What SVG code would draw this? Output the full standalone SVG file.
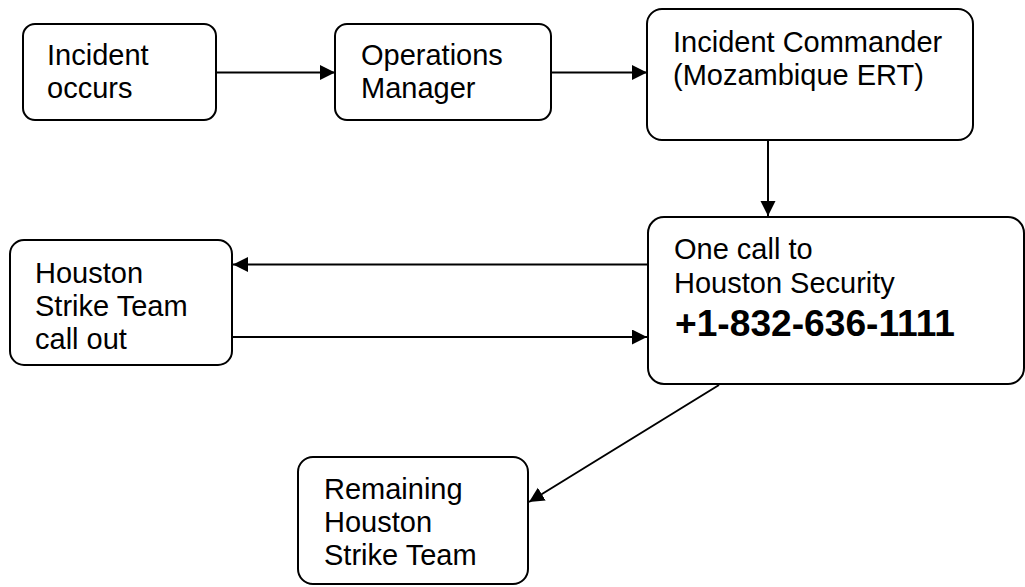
<svg xmlns="http://www.w3.org/2000/svg" width="1025" height="587" viewBox="0 0 1025 587">
  <style>
    .box { fill: #ffffff; stroke: #000000; stroke-width: 2; }
    .lbl { font-family: "Liberation Sans", Arial, sans-serif; font-size: 29px; fill: #000000; }
    .phone { font-family: "Liberation Sans", Arial, sans-serif; font-size: 36px; font-weight: bold; fill: #000000; }
    .conn { fill: none; stroke: #000000; stroke-width: 2; marker-end: url(#arrow); }
  </style>
  <defs>
    <marker id="arrow" markerUnits="userSpaceOnUse" markerWidth="16" markerHeight="16" refX="15" refY="7.5" orient="auto">
      <path d="M0,0 L15,7.5 L0,15 Z" fill="#000000"/>
    </marker>
  </defs>
  <rect width="1025" height="587" fill="#ffffff"/>

  <g id="connectors">
    <line class="conn" x1="216" y1="72.5" x2="335" y2="72.5"/>
    <line class="conn" x1="551" y1="72.5" x2="647" y2="72.5"/>
    <line class="conn" x1="768" y1="140" x2="768" y2="216"/>
    <line class="conn" x1="647" y1="264.5" x2="233" y2="264.5"/>
    <line class="conn" x1="232" y1="337" x2="647" y2="337"/>
    <line class="conn" x1="719" y1="385" x2="529" y2="502"/>
  </g>

  <g id="incident-occurs">
    <rect class="box" x="23" y="24" width="193" height="96" rx="12"/>
    <text class="lbl" x="47" y="65">Incident</text>
    <text class="lbl" x="47" y="98">occurs</text>
  </g>

  <g id="operations-manager">
    <rect class="box" x="335" y="24" width="216" height="96" rx="12"/>
    <text class="lbl" x="361" y="65">Operations</text>
    <text class="lbl" x="361" y="98">Manager</text>
  </g>

  <g id="incident-commander">
    <rect class="box" x="647" y="9" width="326" height="131" rx="15"/>
    <text class="lbl" x="673" y="52">Incident Commander</text>
    <text class="lbl" x="673" y="85">(Mozambique ERT)</text>
  </g>

  <g id="houston-security">
    <rect class="box" x="648" y="217" width="376" height="167" rx="16"/>
    <text class="lbl" x="674" y="259">One call to</text>
    <text class="lbl" x="674" y="293">Houston Security</text>
    <text class="phone" x="675" y="336" textLength="280" lengthAdjust="spacingAndGlyphs">+1-832-636-1111</text>
  </g>

  <g id="strike-team-callout">
    <rect class="box" x="10" y="240" width="222" height="125" rx="14"/>
    <text class="lbl" x="35" y="283">Houston</text>
    <text class="lbl" x="35" y="316">Strike Team</text>
    <text class="lbl" x="35" y="349">call out</text>
  </g>

  <g id="remaining-strike-team">
    <rect class="box" x="298" y="457" width="230" height="127" rx="15"/>
    <text class="lbl" x="324" y="499">Remaining</text>
    <text class="lbl" x="324" y="532">Houston</text>
    <text class="lbl" x="324" y="565">Strike Team</text>
  </g>
</svg>
